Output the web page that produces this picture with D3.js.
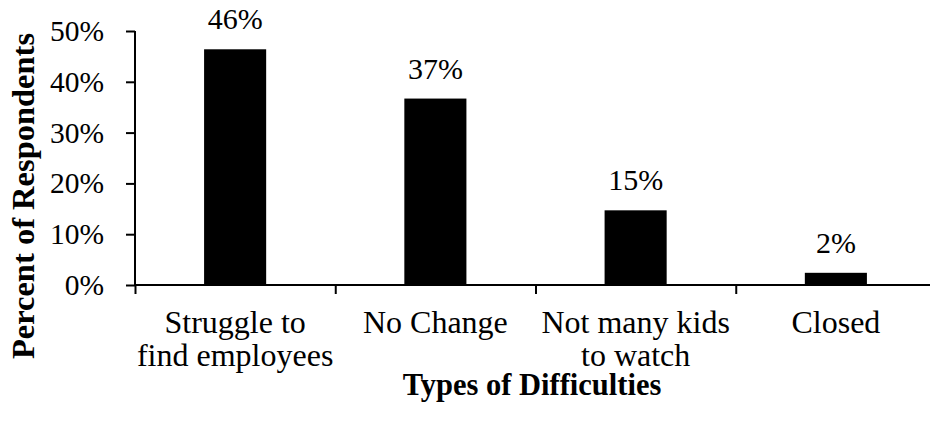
<html>
<head>
  <title>Types of Difficulties</title>
  <script src="https://d3js.org/d3.v7.min.js"></script>
  <style>
    body { margin: 0; background: #fff; }
    text { font-family: "Liberation Serif", "Times New Roman", serif; fill: #000; }
  </style>
</head>
<body>
  <div id="chart"></div>
  <script type="text/javascript">

    // chart values
    var categories = [['Struggle to', 'find employees'], ['No Change'], ['Not many kids', 'to watch'], ['Closed']];
    var values = [46.4, 36.7, 14.7, 2.4];
    var valueLabels = ['46%', '37%', '15%', '2%'];
    var yTicks = [0, 10, 20, 30, 40, 50];

    var margin = {top: 31, right: -6, bottom: 137, left: 135};
    var width = 930 - margin.left - margin.right;
    var height = 422 - margin.top - margin.bottom;

    var svg = d3.select('#chart')
                .append('svg')
                  .attr('width', 930)
                  .attr('height', 422)
                .append('g')
                  .attr('transform', 'translate(' + margin.left + ',' + margin.top + ')');

    var keys = categories.map(function(d, i) { return i; });

    var x = d3.scaleBand().domain(keys).range([0, width]).paddingInner(0.69).paddingOuter(0.345);
    var xTickScale = d3.scaleLinear().domain([0, categories.length]).range([0, width]);
    var y = d3.scaleLinear().domain([0, 50]).range([height, 0]);

    // bars
    svg.selectAll('rect.bar')
       .data(values)
       .enter().append('rect')
         .attr('class', 'bar')
         .attr('x', function(d, i) { return x(i); })
         .attr('y', function(d) { return y(d); })
         .attr('width', x.bandwidth())
         .attr('height', function(d) { return height - y(d); })
         .attr('fill', '#000');

    // value labels
    svg.selectAll('text.value')
       .data(values)
       .enter().append('text')
         .attr('class', 'value')
         .attr('x', function(d, i) { return x(i) + x.bandwidth() / 2; })
         .attr('y', function(d) { return y(d) - 20; })
         .attr('text-anchor', 'middle')
         .style('font-size', '30px')
         .text(function(d, i) { return valueLabels[i]; });

    // y axis
    var yAxis = svg.append('g')
                   .attr('class', 'y-axis')
                   .call(d3.axisLeft(y).tickValues(yTicks).tickSize(9).tickPadding(22)
                           .tickFormat(function(d) { return d + '%'; }));
    yAxis.select('.domain').attr('stroke-width', 2).attr('d', 'M0,' + height + 'V0');
    yAxis.selectAll('.tick line').attr('stroke-width', 2);
    yAxis.selectAll('text').style('font-size', '29.5px')
         .style('font-family', '"Liberation Serif", "Times New Roman", serif');

    // x axis: ticks at category boundaries
    var xAxis = svg.append('g')
                   .attr('class', 'x-axis')
                   .attr('transform', 'translate(0,' + height + ')')
                   .call(d3.axisBottom(xTickScale).tickValues(d3.range(categories.length + 1))
                           .tickSize(9).tickFormat(''));
    xAxis.select('.domain').attr('stroke-width', 2).attr('d', 'M0,0H' + width);
    xAxis.selectAll('.tick line').attr('stroke-width', 2);

    // category labels
    var cat = svg.selectAll('text.cat')
                 .data(categories)
                 .enter().append('text')
                   .attr('class', 'cat')
                   .attr('text-anchor', 'middle')
                   .attr('transform', function(d, i) { return 'translate(' + (x(i) + x.bandwidth() / 2) + ',' + (height + 48) + ')'; })
                   .style('font-size', '32px');
    cat.selectAll('tspan')
       .data(function(d) { return d; })
       .enter().append('tspan')
         .attr('x', 0)
         .attr('dy', function(d, i) { return i === 0 ? 0 : 33; })
         .text(function(d) { return d; });

    // axis titles
    svg.append('text')
       .attr('x', 397)
       .attr('y', height + 110)
       .attr('text-anchor', 'middle')
       .style('font-size', '30.5px')
       .style('font-weight', 'bold')
       .text('Types of Difficulties');

    svg.append('text')
       .attr('transform', 'rotate(-90)')
       .attr('x', -(196 - margin.top))
       .attr('y', -101)
       .attr('text-anchor', 'middle')
       .style('font-size', '32.5px')
       .style('font-weight', 'bold')
       .text('Percent of Respondents');

  </script>
</body>
</html>
